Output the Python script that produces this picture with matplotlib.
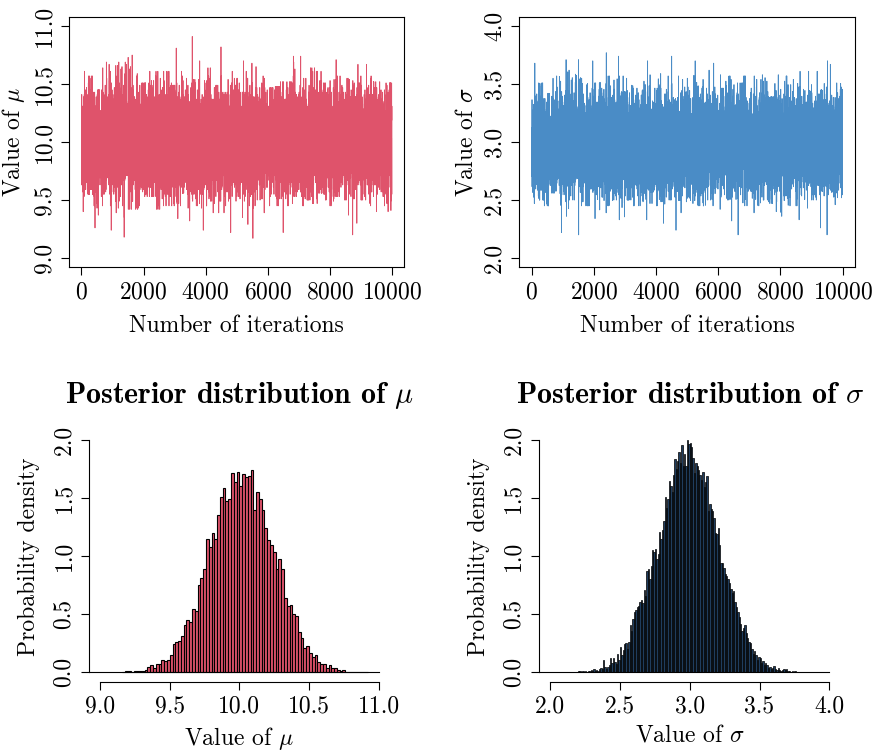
import numpy as np
import matplotlib
matplotlib.use("Agg")
import matplotlib.pyplot as plt
from matplotlib.ticker import FormatStrFormatter

plt.rcParams['font.family'] = 'serif'
plt.rcParams['font.serif'] = ['cmr10']
plt.rcParams['mathtext.fontset'] = 'cm'
plt.rcParams['axes.formatter.use_mathtext'] = True

N_ITER = 10000
MU_COLOR = '#DF536B'
SIGMA_COLOR = '#4A8CC6'
SIGMA_FILL = '#1F3D5E'
FS = 17

# posterior histograms: first bin edge, bin width, density of each bin
mu_bin_start = 9.16
mu_bin_width = 0.02
mu_density = [
    0.005, 0.010, 0.010, 0.005, 0.015, 0.010, 0.015, 0.015, 0.020, 0.045,
    0.060, 0.035, 0.070, 0.075, 0.105, 0.100, 0.106, 0.150, 0.245, 0.260,
    0.270, 0.315, 0.410, 0.450, 0.430, 0.550, 0.530, 0.750, 0.810, 0.888,
    1.150, 1.080, 1.200, 1.150, 1.360, 1.510, 1.590, 1.480, 1.490, 1.720,
    1.640, 1.730, 1.610, 1.710, 1.680, 1.690, 1.740, 1.400, 1.550, 1.490,
    1.400, 1.240, 1.140, 1.100, 1.040, 0.890, 0.980, 0.890, 0.640, 0.570,
    0.580, 0.500, 0.485, 0.350, 0.296, 0.207, 0.224, 0.164, 0.130, 0.146,
    0.086, 0.075, 0.070, 0.035, 0.060, 0.035, 0.035, 0.017, 0.012, 0.017,
    0.005, 0.005, 0.005, 0.005, 0.000, 0.000, 0.000, 0.005,
]

sigma_bin_start = 2.20
sigma_bin_width = 0.01
sigma_density = [
    0.010, 0.015, 0.005, 0.010, 0.005, 0.010, 0.005, 0.015, 0.010, 0.020,
    0.015, 0.025, 0.015, 0.020, 0.010, 0.030, 0.040, 0.030, 0.110, 0.045,
    0.030, 0.050, 0.060, 0.120, 0.080, 0.120, 0.090, 0.070, 0.160, 0.110,
    0.220, 0.150, 0.190, 0.240, 0.250, 0.200, 0.260, 0.410, 0.360, 0.460,
    0.520, 0.540, 0.560, 0.570, 0.610, 0.620, 0.600, 0.710, 0.660, 0.870,
    0.890, 0.800, 0.920, 1.050, 1.040, 1.060, 0.980, 1.020, 1.210, 1.150,
    1.230, 1.300, 1.510, 1.420, 1.490, 1.650, 1.610, 1.550, 1.700, 1.840,
    1.750, 1.820, 1.900, 1.800, 1.960, 1.780, 1.880, 1.780, 2.000, 1.970,
    1.980, 1.940, 1.850, 1.720, 1.800, 1.780, 1.740, 1.700, 1.660, 1.730,
    1.600, 1.640, 1.690, 1.390, 1.450, 1.410, 1.390, 1.330, 1.200, 1.190,
    1.240, 1.100, 0.945, 0.940, 0.900, 0.850, 0.830, 0.800, 0.770, 0.720,
    0.680, 0.700, 0.610, 0.560, 0.520, 0.480, 0.420, 0.360, 0.380, 0.410,
    0.340, 0.300, 0.260, 0.250, 0.200, 0.160, 0.180, 0.150, 0.110, 0.130,
    0.120, 0.080, 0.100, 0.060, 0.080, 0.060, 0.040, 0.050, 0.030, 0.040,
    0.055, 0.030, 0.020, 0.035, 0.020, 0.010, 0.020, 0.030, 0.020, 0.030,
    0.010, 0.015, 0.005, 0.010, 0.005, 0.010, 0.005, 0.005,
]

# chain extremes in blocks of 200 iterations
mu_block_max = [
    10.61, 10.57, 10.45, 10.64, 10.69, 10.66, 10.69, 10.73, 10.75, 10.51,
    10.51, 10.61, 10.61, 10.61, 10.61, 10.81, 10.61, 10.91, 10.54, 10.70,
    10.64, 10.49, 10.82, 10.54, 10.61, 10.55, 10.70, 10.68, 10.65, 10.57,
    10.47, 10.48, 10.52, 10.52, 10.74, 10.74, 10.64, 10.64, 10.61, 10.51,
    10.54, 10.71, 10.55, 10.54, 10.67, 10.67, 10.57, 10.52, 10.52, 10.51,
]
mu_block_min = [
    9.40, 9.55, 9.26, 9.45, 9.24, 9.39, 9.18, 9.42, 9.42, 9.42,
    9.53, 9.53, 9.42, 9.45, 9.45, 9.34, 9.56, 9.32, 9.45, 9.24,
    9.45, 9.39, 9.39, 9.45, 9.22, 9.35, 9.29, 9.17, 9.50, 9.39,
    9.45, 9.45, 9.22, 9.45, 9.53, 9.45, 9.50, 9.47, 9.56, 9.50,
    9.45, 9.53, 9.50, 9.20, 9.30, 9.50, 9.45, 9.40, 9.45, 9.40,
]
sigma_block_max = [
    3.68, 3.51, 3.42, 3.55, 3.57, 3.71, 3.62, 3.71, 3.55, 3.70,
    3.51, 3.77, 3.57, 3.74, 3.57, 3.55, 3.49, 3.45, 3.70, 3.58,
    3.59, 3.57, 3.74, 3.57, 3.54, 3.55, 3.70, 3.54, 3.62, 3.68,
    3.58, 3.57, 3.54, 3.51, 3.57, 3.57, 3.54, 3.58, 3.39, 3.58,
    3.57, 3.57, 3.54, 3.61, 3.61, 3.61, 3.45, 3.70, 3.67, 3.51,
]
sigma_block_min = [
    2.47, 2.50, 2.45, 2.56, 2.22, 2.36, 2.50, 2.20, 2.45, 2.45,
    2.34, 2.39, 2.45, 2.50, 2.33, 2.50, 2.45, 2.45, 2.33, 2.47,
    2.45, 2.30, 2.50, 2.24, 2.39, 2.47, 2.45, 2.45, 2.50, 2.45,
    2.42, 2.50, 2.32, 2.20, 2.45, 2.39, 2.45, 2.50, 2.47, 2.40,
    2.36, 2.45, 2.45, 2.33, 2.43, 2.50, 2.26, 2.20, 2.46, 2.52,
]


def bin_edges(start, width, density):
    return np.round(start + width * np.arange(len(density)), 4)


def scrambled_order(n, salt):
    # fixed integer hash of the iteration index, used to shuffle the draws
    mask = np.uint64(0xFFFFFFFF)
    k = (np.arange(n, dtype=np.uint64) + np.uint64(salt)) * np.uint64(0x9E3779B1) & mask
    k ^= k >> np.uint64(16)
    k = (k * np.uint64(0x85EBCA6B)) & mask
    k ^= k >> np.uint64(13)
    k = (k * np.uint64(0xC2B2AE35)) & mask
    k ^= k >> np.uint64(16)
    return np.argsort(k, kind='stable')


def build_chain(edges, width, density, block_min, block_max, salt):
    # spread the histogram counts over the iterations, then pin the block extremes
    dens = np.asarray(density, dtype=float)
    counts = np.round(dens / dens.sum() * N_ITER).astype(int)
    counts[np.argmax(counts)] += N_ITER - counts.sum()
    values = np.repeat(edges + width / 2, counts)
    chain = values[scrambled_order(N_ITER, salt)]

    size = N_ITER // len(block_max)
    for b in range(len(block_max)):
        seg = chain[b * size:(b + 1) * size]
        np.clip(seg, block_min[b], block_max[b], out=seg)
        seg[np.argmax(seg)] = block_max[b]
        seg[np.argmin(seg)] = block_min[b]
    return chain


def style_ticks(ax):
    ax.tick_params(direction='out', length=6, width=0.8, labelsize=FS, pad=4)
    ax.yaxis.set_tick_params(rotation=90)
    for lab in ax.get_yticklabels():
        lab.set_va('center')


def trace_panel(ax, chain, color, ylim, yticks, ylabel):
    iters = np.arange(1, N_ITER + 1)
    ax.plot(iters, chain, color=color, lw=0.6)
    ax.set_xlim(-400, 10400)
    ax.set_ylim(*ylim)
    ax.set_xticks(np.arange(0, 10001, 2000))
    ax.set_yticks(yticks)
    ax.yaxis.set_major_formatter(FormatStrFormatter('%.1f'))
    for sp in ax.spines.values():
        sp.set_linewidth(0.8)
    style_ticks(ax)
    ax.set_xlabel('Number of iterations', fontsize=FS, labelpad=8)
    ax.set_ylabel(ylabel, fontsize=FS, labelpad=4)


def hist_panel(ax, edges, width, density, fill, edge_lw, xlim, xticks, xlabel, title):
    ax.bar(edges, density, width=width, align='edge', color=fill,
           edgecolor='black', linewidth=edge_lw)
    ax.plot([xlim[0], xticks[-1]], [0, 0], color='black', lw=0.8)
    ax.set_xlim(*xlim)
    ax.set_ylim(-0.08, 2.08)
    ax.set_xticks(xticks)
    ax.set_yticks([0.0, 0.5, 1.0, 1.5, 2.0])
    ax.xaxis.set_major_formatter(FormatStrFormatter('%.1f'))
    ax.yaxis.set_major_formatter(FormatStrFormatter('%.1f'))
    ax.spines['top'].set_visible(False)
    ax.spines['right'].set_visible(False)
    ax.spines['left'].set_bounds(0, 2)
    ax.spines['bottom'].set_bounds(xticks[0], xticks[-1])
    ax.spines['left'].set_linewidth(0.8)
    ax.spines['bottom'].set_linewidth(0.8)
    style_ticks(ax)
    ax.set_xlabel(xlabel, fontsize=FS, labelpad=5)
    ax.set_ylabel('Probability density', fontsize=FS, labelpad=9)
    ax.set_title(title, fontfamily='cmb10', fontsize=21.5, pad=20)


mu_edges = bin_edges(mu_bin_start, mu_bin_width, mu_density)
sigma_edges = bin_edges(sigma_bin_start, sigma_bin_width, sigma_density)

mu_chain = build_chain(mu_edges, mu_bin_width, mu_density,
                       mu_block_min, mu_block_max, salt=11)
sigma_chain = build_chain(sigma_edges, sigma_bin_width, sigma_density,
                          sigma_block_min, sigma_block_max, salt=29)

fig = plt.figure(figsize=(8.77, 7.52), dpi=100)

ax1 = fig.add_axes([0.0787, 0.6445, 0.3823, 0.3332])
trace_panel(ax1, mu_chain, MU_COLOR, (8.92, 11.08),
            [9.0, 9.5, 10.0, 10.5, 11.0], r'Value of $\mu$')

ax2 = fig.add_axes([0.5921, 0.6445, 0.3828, 0.3332])
trace_panel(ax2, sigma_chain, SIGMA_COLOR, (1.92, 4.08),
            [2.0, 2.5, 3.0, 3.5, 4.0], r'Value of $\sigma$')

ax3 = fig.add_axes([0.1014, 0.0936, 0.3431, 0.3333])
hist_panel(ax3, mu_edges, mu_bin_width, mu_density, MU_COLOR, 0.8,
           (8.92, 11.08), [9.0, 9.5, 10.0, 10.5, 11.0],
           r'Value of $\mu$', r'Posterior distribution of $\mu$')

ax4 = fig.add_axes([0.6144, 0.0936, 0.3440, 0.3333])
hist_panel(ax4, sigma_edges, sigma_bin_width, sigma_density, SIGMA_FILL, 0.5,
           (1.92, 4.08), [2.0, 2.5, 3.0, 3.5, 4.0],
           r'Value of $\sigma$', r'Posterior distribution of $\sigma$')

fig.savefig('out.png', dpi=100)
